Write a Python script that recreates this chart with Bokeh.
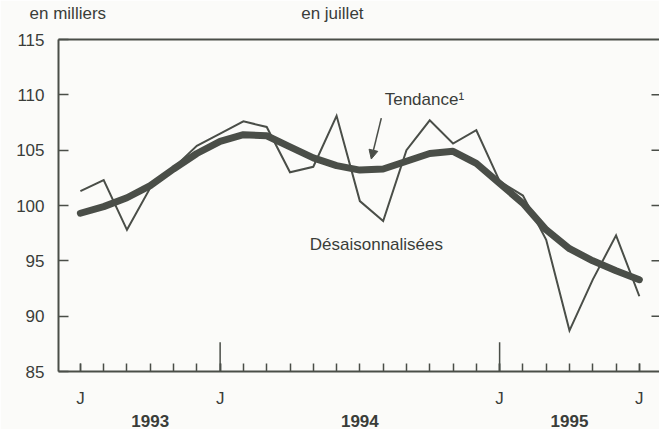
from bokeh.plotting import figure
from bokeh.models import Range1d, FixedTicker, LinearAxis, Label, Arrow, NormalHead
from bokeh.embed import file_html
from bokeh.resources import INLINE

# ---------------- data ----------------
months = ["1993-07", "1993-08", "1993-09", "1993-10", "1993-11", "1993-12",
          "1994-01", "1994-02", "1994-03", "1994-04", "1994-05", "1994-06",
          "1994-07", "1994-08", "1994-09", "1994-10", "1994-11", "1994-12",
          "1995-01", "1995-02", "1995-03", "1995-04", "1995-05", "1995-06",
          "1995-07"]
desaisonnalisees = [101.3, 102.3, 97.8, 101.6, 103.4, 105.4, 106.5, 107.6, 107.1,
                    103.0, 103.5, 108.1, 100.4, 98.6, 105.0, 107.7, 105.6, 106.8,
                    102.2, 100.9, 96.9, 88.7, 93.3, 97.3, 91.8]
tendance = [99.3, 99.9, 100.7, 101.8, 103.3, 104.7, 105.8, 106.4, 106.3, 105.3,
            104.3, 103.6, 103.2, 103.3, 104.0, 104.7, 104.9, 103.8, 102.0, 100.2,
            97.8, 96.1, 95.0, 94.1, 93.3]
y_ticks = [85, 90, 95, 100, 105, 110, 115]
j_tick_months = ["1993-07", "1994-01", "1995-01", "1995-07"]
j_tick_labels = ["J", "J", "J", "J"]
year_labels = ["1993", "1994", "1995"]
year_label_months = ["1993-10", "1994-07", "1995-04"]

# ---------------- style ----------------
INK = "#4a4e48"
TEXT = "#3a3d39"
BG = "#fbfbf9"
FONT = "Liberation Sans"
FS = "17px"

W, H = 659, 429
BL, BR, BT, BB = 58, 0, 35, 53
frame_w = W - BL - BR
frame_h = H - BT - BB
px_per_month = 23.29
x0 = -0.94
x1 = x0 + frame_w / px_per_month
y0, y1 = 85, 115
py = frame_h / (y1 - y0)

xi = list(range(len(months)))
idx = {m: i for i, m in enumerate(months)}

p = figure(width=W, height=H, x_range=Range1d(x0, x1), y_range=Range1d(y0, y1),
           output_backend="svg", toolbar_location=None,
           min_border_left=BL, min_border_right=BR, min_border_top=BT, min_border_bottom=BB)
p.background_fill_color = BG
p.border_fill_color = BG
p.outline_line_color = None
p.grid.visible = False

# bottom axis: monthly ticks, J labels
xa = p.xaxis[0]
xa.ticker = FixedTicker(ticks=[idx[m] for m in j_tick_months], minor_ticks=xi)
xa.major_label_overrides = {idx[m]: l for m, l in zip(j_tick_months, j_tick_labels)}
xa.major_tick_in = 8
xa.major_tick_out = 0
xa.minor_tick_in = 8
xa.minor_tick_out = 0
xa.axis_line_width = 2
xa.axis_line_color = INK
xa.major_tick_line_color = INK
xa.minor_tick_line_color = INK
xa.major_tick_line_width = 1.5
xa.minor_tick_line_width = 1.5
xa.major_label_standoff = 17
xa.major_label_text_font = FONT
xa.major_label_text_font_size = FS
xa.major_label_text_color = TEXT

# second bottom axis: years
yr = LinearAxis(ticker=FixedTicker(ticks=[idx[m] for m in year_label_months]),
                major_label_overrides={idx[m]: l for m, l in zip(year_label_months, year_labels)},
                axis_line_color=None, major_tick_line_color=None, minor_tick_line_color=None,
                major_label_standoff=-2, major_label_text_font=FONT,
                major_label_text_font_size=FS, major_label_text_font_style="bold",
                major_label_text_color=TEXT)
p.add_layout(yr, "below")

# left axis
ya = p.yaxis[0]
ya.ticker = FixedTicker(ticks=y_ticks)
ya.major_tick_in = 10
ya.major_tick_out = 0
ya.minor_tick_line_color = None
ya.axis_line_width = 2
ya.axis_line_color = INK
ya.major_tick_line_color = INK
ya.major_tick_line_width = 1.5
ya.major_label_standoff = 14
ya.major_label_text_font = FONT
ya.major_label_text_font_size = FS
ya.major_label_text_color = TEXT

# top frame line, carrying the header texts
header_x = [x0 + 0.4, 10.82]
header_text = ["en milliers", "en juillet"]
ta = LinearAxis(ticker=FixedTicker(ticks=header_x),
                major_label_overrides=dict(zip(header_x, header_text)),
                axis_line_color=INK, axis_line_width=2, major_tick_line_color=None,
                minor_tick_line_color=None, major_label_standoff=11,
                major_label_text_font=FONT, major_label_text_font_size=FS,
                major_label_text_color=TEXT)
p.add_layout(ta, "above")

# inward ticks on the right edge
inner = y_ticks[1:-1]
p.segment(x0=[x1 - 8 / px_per_month] * len(inner), y0=inner, x1=[x1] * len(inner), y1=inner,
          line_color=INK, line_width=1.5)

# tall January ticks
jan = [i for i, m in enumerate(months) if m.endswith("-01")]
p.segment(x0=jan, y0=[y0] * len(jan), x1=jan, y1=[y0 + 30 / py] * len(jan),
          line_color=INK, line_width=1.5)

# series
p.line(xi, desaisonnalisees, line_color=INK, line_width=2, line_join="miter")
p.line(xi, tendance, line_color=INK, line_width=7, line_cap="round", line_join="round")

# in-plot labels
def lab(x, y, text):
    p.add_layout(Label(x=x, y=y, text=text, text_font=FONT, text_font_size=FS,
                       text_color=TEXT, text_align="center", text_baseline="middle"))

lab(14.77, 109.6, "Tendance\u00b9")
lab(12.71, 96.45, "Désaisonnalisées")

p.add_layout(Arrow(end=NormalHead(size=9, fill_color=INK, line_color=INK),
                   x_start=12.92, y_start=107.9, x_end=12.49, y_end=104.2,
                   line_color=INK, line_width=1.5))

open("out.html", "w").write(file_html(p, INLINE))
